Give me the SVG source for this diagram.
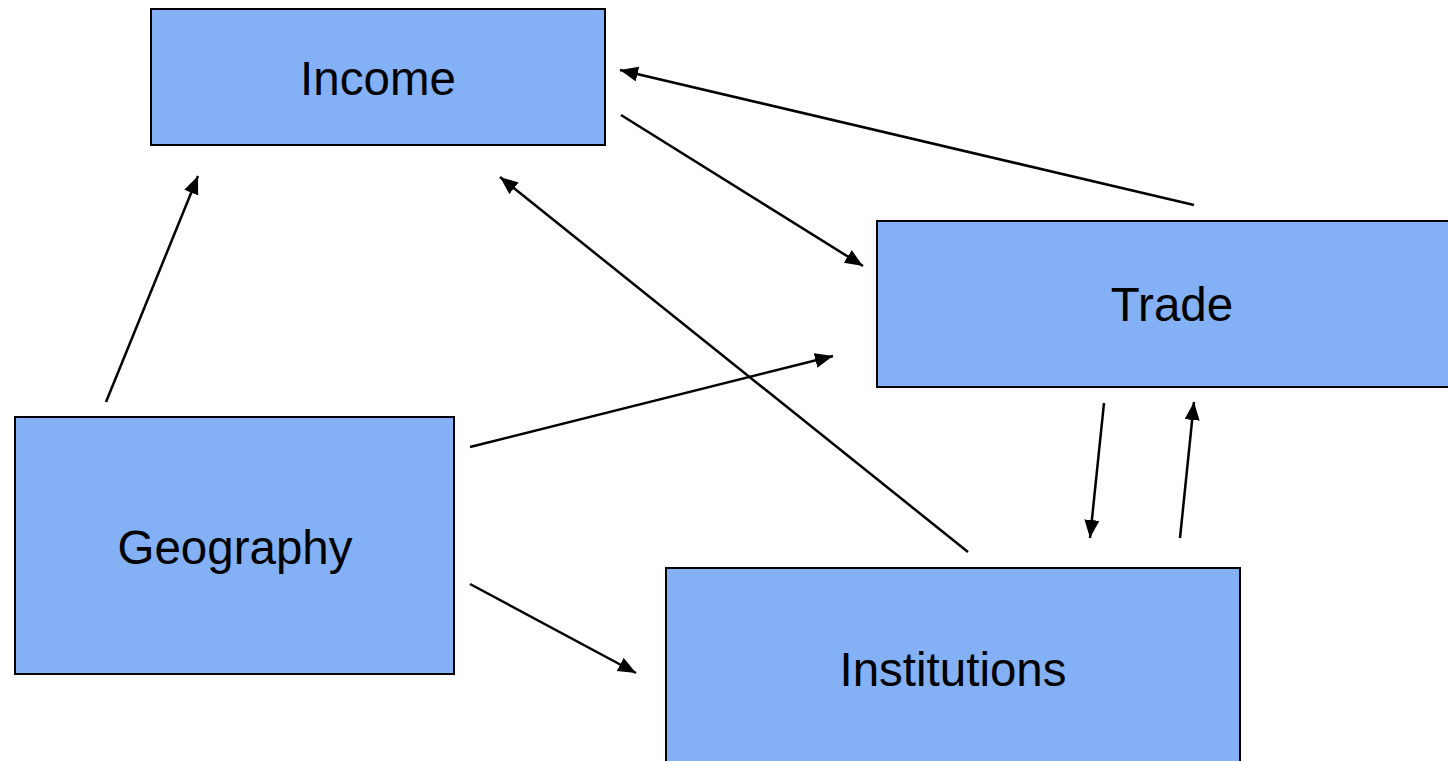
<svg xmlns="http://www.w3.org/2000/svg" width="1448" height="761" viewBox="0 0 1448 761">
<style>
.box{fill:#84b0f5;stroke:#000;stroke-width:2}
.lbl{font-family:"Liberation Sans",Arial,sans-serif;font-size:47.5px;fill:#000;text-anchor:middle}
.con{stroke:#000;stroke-width:2.5;fill:none;marker-end:url(#ah)}
</style>
<defs>
<marker id="ah" markerUnits="userSpaceOnUse" markerWidth="20" markerHeight="16" refX="18" refY="7.5" orient="auto">
<path d="M0,0 L18,7.5 L0,15 z" fill="#000"/>
</marker>
</defs>
<rect width="1448" height="761" fill="#fff"/>
<g id="income"><rect class="box" x="151" y="9" width="454" height="136"/><text class="lbl" x="378" y="95">Income</text></g>
<g id="trade"><rect class="box" x="877" y="221" width="580" height="166"/><text class="lbl" x="1172" y="321">Trade</text></g>
<g id="geography"><rect class="box" x="15" y="417" width="439" height="257"/><text class="lbl" x="235" y="564">Geography</text></g>
<g id="institutions"><rect class="box" x="666" y="568" width="574" height="210"/><text class="lbl" x="953" y="686">Institutions</text></g>
<g id="connectors">
<line class="con" x1="1194" y1="205" x2="620" y2="70"/>
<line class="con" x1="621" y1="115" x2="863" y2="266"/>
<line class="con" x1="106" y1="402" x2="198" y2="176"/>
<line class="con" x1="470" y1="447" x2="833" y2="356"/>
<line class="con" x1="470" y1="584" x2="636" y2="673"/>
<line class="con" x1="968" y1="552" x2="500" y2="177"/>
<line class="con" x1="1104" y1="403" x2="1090" y2="538"/>
<line class="con" x1="1180" y1="538" x2="1194" y2="402"/>
</g>
</svg>
